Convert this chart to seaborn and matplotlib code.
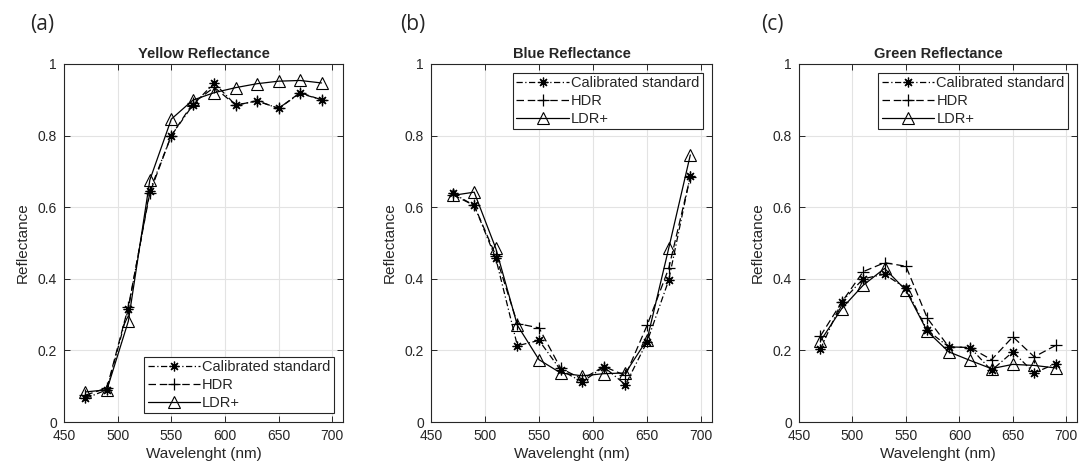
import numpy as np
import pandas as pd
import matplotlib
matplotlib.use("Agg")
import matplotlib.pyplot as plt
import seaborn as sns

# Sampled wavelengths (nm)
wavelength = [470, 490, 510, 530, 550, 570, 590, 610, 630, 650, 670, 690]

# Yellow patch reflectance
yellow_cal = [0.066, 0.090, 0.316, 0.646, 0.800, 0.885, 0.947, 0.885, 0.897, 0.876, 0.918, 0.900]
yellow_hdr = [0.075, 0.095, 0.322, 0.640, 0.800, 0.890, 0.935, 0.885, 0.897, 0.876, 0.920, 0.900]
yellow_ldr = [0.084, 0.090, 0.282, 0.676, 0.846, 0.899, 0.920, 0.934, 0.945, 0.952, 0.954, 0.947]

# Blue patch reflectance
blue_cal = [0.639, 0.605, 0.457, 0.213, 0.228, 0.145, 0.112, 0.154, 0.104, 0.224, 0.396, 0.688]
blue_hdr = [0.635, 0.605, 0.465, 0.275, 0.263, 0.150, 0.120, 0.155, 0.130, 0.270, 0.429, 0.685]
blue_ldr = [0.633, 0.642, 0.485, 0.270, 0.174, 0.137, 0.129, 0.135, 0.137, 0.230, 0.485, 0.746]

# Green patch reflectance
green_cal = [0.203, 0.336, 0.400, 0.413, 0.373, 0.256, 0.210, 0.208, 0.144, 0.196, 0.137, 0.163]
green_hdr = [0.240, 0.335, 0.420, 0.445, 0.435, 0.290, 0.210, 0.208, 0.174, 0.238, 0.182, 0.214]
green_ldr = [0.226, 0.317, 0.382, 0.429, 0.368, 0.253, 0.196, 0.172, 0.149, 0.161, 0.158, 0.151]

series_names = ["Calibrated standard", "HDR", "LDR+"]
panel_titles = ["Yellow Reflectance", "Blue Reflectance", "Green Reflectance"]
panel_tags = ["(a)", "(b)", "(c)"]
x_ticks = [450, 500, 550, 600, 650, 700]
y_ticks = [0, 0.2, 0.4, 0.6, 0.8, 1]
y_tick_labels = ["0", "0.2", "0.4", "0.6", "0.8", "1"]

panels = [
    (yellow_cal, yellow_hdr, yellow_ldr),
    (blue_cal, blue_hdr, blue_ldr),
    (green_cal, green_hdr, green_ldr),
]

sns.set_theme(style="ticks")
plt.rcParams["font.family"] = ["Liberation Sans", "DejaVu Sans"]

line_styles = {
    "Calibrated standard": dict(linestyle=(0, (5, 2, 1, 2)), marker=(8, 2, 0),
                                markersize=7, markeredgewidth=0.9),
    "HDR": dict(linestyle=(0, (6, 3)), marker="+", markersize=9, markeredgewidth=0.9),
    "LDR+": dict(linestyle="-", marker="^", markersize=8, markeredgewidth=0.8,
                 markerfacecolor="none"),
}

fig = plt.figure(figsize=(10.79, 4.73), dpi=100)
axes_boxes = [
    (0.0593, 0.1078, 0.2586, 0.7569),
    (0.3994, 0.1078, 0.2604, 0.7569),
    (0.7405, 0.1078, 0.2577, 0.7569),
]
legend_locs = ["lower right", "upper right", "upper right"]
tag_x = [0.028, 0.371, 0.705]

axis_grey = "#262626"

for i, (box, series) in enumerate(zip(axes_boxes, panels)):
    ax = fig.add_axes(box)
    df = pd.DataFrame({"Wavelength": wavelength})
    for name, vals in zip(series_names, series):
        df[name] = vals
    handles = []
    for name in series_names:
        n_before = len(ax.lines)
        sns.lineplot(data=df, x="Wavelength", y=name, ax=ax, color="black",
                     linewidth=0.9, legend=False)
        line = ax.lines[n_before]
        line.set(color="black", markeredgecolor="black", **line_styles[name])
        line.set_label(name)
        handles.append(line)
    ax.set_xlim(450, 710)
    ax.set_ylim(0, 1)
    ax.set_xticks(x_ticks)
    ax.set_yticks(y_ticks)
    ax.set_yticklabels(y_tick_labels)
    ax.grid(True, color="#e3e3e3", lw=0.8)
    ax.set_axisbelow(True)
    ax.tick_params(direction="in", top=True, right=True, length=4, width=0.7,
                   labelsize=10, colors=axis_grey, pad=5)
    for sp in ax.spines.values():
        sp.set_color(axis_grey)
        sp.set_linewidth(0.8)
        sp.set_visible(True)
    ax.set_xlabel("Wavelenght (nm)", fontsize=11, color=axis_grey, labelpad=3)
    ax.set_ylabel("Reflectance", fontsize=11, color=axis_grey, labelpad=6)
    ax.set_title(panel_titles[i], fontsize=10.5, fontweight="bold", pad=4)
    leg = ax.legend(handles=handles, labels=series_names, loc=legend_locs[i],
                    fontsize=10.5, frameon=True, fancybox=False,
                    edgecolor=axis_grey, framealpha=1, handlelength=3.6,
                    handletextpad=0.15, borderpad=0.25, labelspacing=0.25,
                    borderaxespad=0.6)
    leg.get_frame().set_linewidth(0.8)
    fig.text(tag_x[i], 0.949, panel_tags[i], fontsize=15, ha="left", va="center",
             family=["Open Sans", "DejaVu Sans"])

fig.savefig("out.png", dpi=100)
